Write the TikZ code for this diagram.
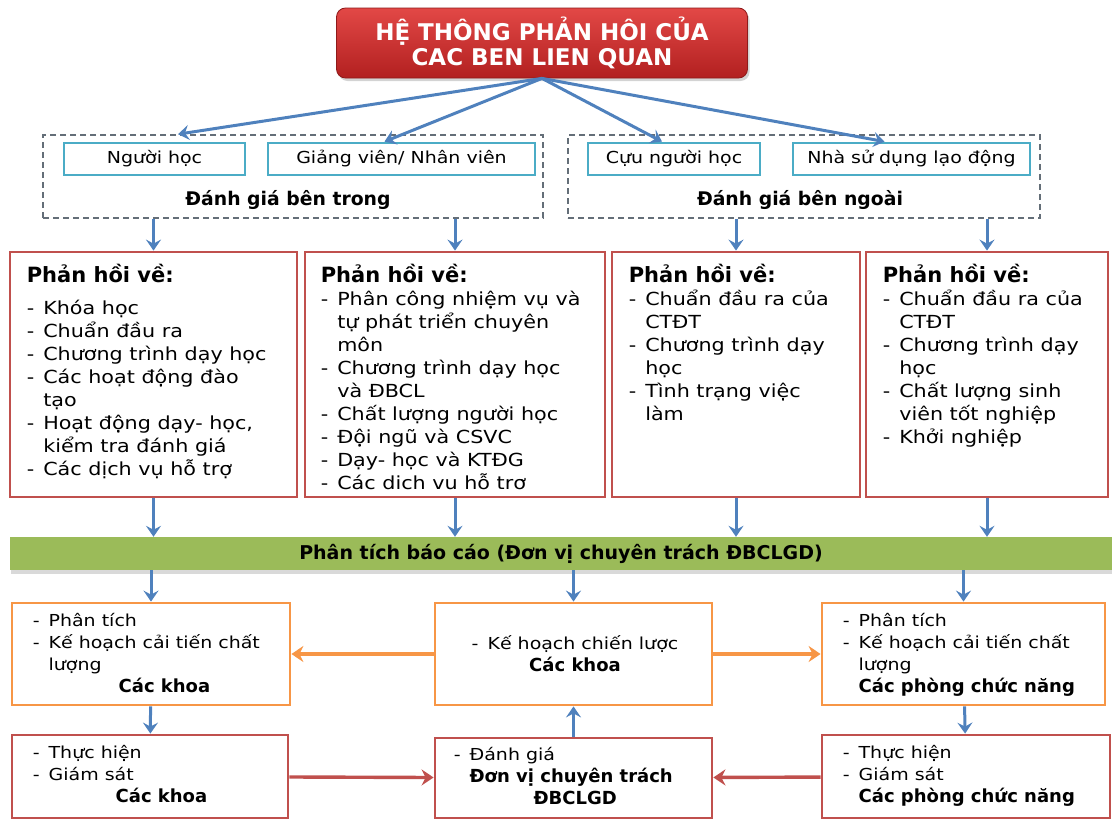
\documentclass[tikz,border=0pt]{standalone}
\usepackage{fontspec}
\setmainfont{DejaVu Sans}[FakeStretch=1.15, BoldFont={DejaVu Sans Bold}, BoldFeatures={FakeStretch=1.0}]
\usepackage{xcolor}
\usetikzlibrary{arrows.meta,positioning,shadows}
\definecolor{framered}{RGB}{192, 80, 77}
\definecolor{titletop}{RGB}{226, 72, 70}
\definecolor{titlebot}{RGB}{178, 32, 32}
\definecolor{planorange}{RGB}{247, 150, 70}
\definecolor{srcteal}{RGB}{75, 172, 198}
\definecolor{arrowblue}{RGB}{79, 129, 189}
\definecolor{bargreen}{RGB}{155, 187, 89}
\definecolor{dashgray}{RGB}{100, 110, 120}
\newcommand{\fbhead}[1]{\multicolumn{2}{@{}l@{}}{\fontsize{21}{23}\selectfont\bfseries #1}}
\newcommand{\unitname}[1]{{\fontsize{18}{22}\selectfont\bfseries #1}}

\begin{document}
\begin{tikzpicture}[x=1pt, y=-1pt,
  titlebox/.style={rectangle, rounded corners=9pt, draw=titlebot!80!black, line width=0.8pt, top color=titletop, bottom color=titlebot, text=white, align=center, font=\fontsize{23}{25}\selectfont\bfseries, minimum width=411pt, minimum height=70pt, drop shadow={opacity=0.35, shadow xshift=2pt, shadow yshift=-3pt}},
  groupbox/.style={rectangle, draw=dashgray, dash pattern=on 6pt off 4pt, line width=1.6pt, minimum height=83pt},
  srcbox/.style={rectangle, draw=srcteal, line width=2.8pt, minimum height=32pt, font=\fontsize{16.5}{20}\selectfont},
  grouplbl/.style={font=\fontsize{18.8}{20}\selectfont\bfseries},
  fbbox/.style={rectangle, draw=framered, line width=2.8pt, minimum height=245pt},
  fbtext/.style={anchor=north west, inner sep=0pt, font=\fontsize{18}{23}\selectfont},
  barbox/.style={rectangle, fill=bargreen, minimum width=1102pt, minimum height=33pt, font=\fontsize{19}{20}\selectfont\bfseries, drop shadow={opacity=0.3, shadow xshift=1pt, shadow yshift=-4pt}},
  planbox/.style={rectangle, draw=planorange, line width=2.8pt, minimum height=102pt},
  actbox/.style={rectangle, draw=framered, line width=2.8pt},
  steptext/.style={inner sep=0pt, font=\fontsize{16.5}{22}\selectfont},
  flow/.style={-{Stealth[length=11pt,width=15pt,inset=4pt]}, line width=3pt, color=arrowblue},
  oflow/.style={-{Stealth[length=12pt,width=16pt,inset=4pt]}, line width=3.4pt, color=planorange},
  rflow/.style={-{Stealth[length=12pt,width=16pt,inset=4pt]}, line width=3.4pt, color=framered}
]
\useasboundingbox (0,0) rectangle (1112,819);

% Title
\node[titlebox] (title) at (542,43) {HỆ THÔNG PHẢN HÔI CỦA\\CAC BEN LIEN QUAN};

% Stakeholder groups
\node[groupbox, minimum width=500pt] (inner) at (293,176.5) {};
\node[groupbox, minimum width=472pt] (outer) at (804,176.5) {};
\node[srcbox, minimum width=181pt] (learner) at (154.5,159) {Người học};
\node[srcbox, minimum width=267pt] (staff) at (401.5,159) {Giảng viên/ Nhân viên};
\node[srcbox, minimum width=172pt] (alumni) at (674,159) {Cựu người học};
\node[srcbox, minimum width=237pt] (employer) at (911.5,159) {Nhà sử dụng lạo động};
\node[grouplbl] (innerlbl) at (288,200) {Đánh giá bên trong};
\node[grouplbl] (outerlbl) at (800,200) {Đánh giá bên ngoài};

\draw[flow] (title.south) -- ([xshift=-115pt]inner.north);
\draw[flow] (title.south) -- ([xshift=-17pt]staff.north);
\draw[flow] (title.south) -- ([xshift=-12pt]alumni.north);
\draw[flow] (title.south) -- ([xshift=-27pt]employer.north);

% Feedback frames
\node[fbbox, minimum width=287pt] (fb1) at (153.5,374.5) {};
\node[fbbox, minimum width=300pt] (fb2) at (455,374.5) {};
\node[fbbox, minimum width=248pt] (fb3) at (736,374.5) {};
\node[fbbox, minimum width=242pt] (fb4) at (987,374.5) {};

\node[fbtext] (fb1txt) at ([xshift=18pt,yshift=-13pt]fb1.north west) {\begin{tabular}{@{}l@{\hspace{9pt}}l@{}}
\fbhead{Phản hồi về:}\\[9pt]
- & Khóa học\\
- & Chuẩn đầu ra\\
- & Chương trình dạy học\\
- & Các hoạt động đào\\
  & tạo\\
- & Hoạt động dạy- học,\\
  & kiểm tra đánh giá\\
- & Các dịch vụ hỗ trợ
\end{tabular}};
\node[fbtext] (fb2txt) at ([xshift=17pt,yshift=-13pt]fb2.north west) {\begin{tabular}{@{}l@{\hspace{9pt}}l@{}}
\fbhead{Phản hồi về:}\\
- & Phân công nhiệm vụ và\\
  & tự phát triển chuyên\\
  & môn\\
- & Chương trình dạy học\\
  & và ĐBCL\\
- & Chất lượng người học\\
- & Đội ngũ và CSVC\\
- & Dạy- học và KTĐG\\
- & Các dich vu hỗ trơ
\end{tabular}};
\node[fbtext] (fb3txt) at ([xshift=18pt,yshift=-13pt]fb3.north west) {\begin{tabular}{@{}l@{\hspace{9pt}}l@{}}
\fbhead{Phản hồi về:}\\
- & Chuẩn đầu ra của\\
  & CTĐT\\
- & Chương trình dạy\\
  & học\\
- & Tình trạng việc\\
  & làm
\end{tabular}};
\node[fbtext] (fb4txt) at ([xshift=18pt,yshift=-13pt]fb4.north west) {\begin{tabular}{@{}l@{\hspace{9pt}}l@{}}
\fbhead{Phản hồi về:}\\
- & Chuẩn đầu ra của\\
  & CTĐT\\
- & Chương trình dạy\\
  & học\\
- & Chất lượng sinh\\
  & viên tốt nghiệp\\
- & Khởi nghiệp
\end{tabular}};

\draw[flow] (inner.south -| fb1.north) -- (fb1.north);
\draw[flow] (inner.south -| fb2.north) -- (fb2.north);
\draw[flow] (outer.south -| fb3.north) -- (fb3.north);
\draw[flow] (outer.south -| fb4.north) -- (fb4.north);

% Report bar
\node[barbox] (report) at (561,553.5) {Phân tích báo cáo (Đơn vị chuyên trách ĐBCLGD)};
\foreach \f in {fb1,fb2,fb3,fb4}
  \draw[flow] (\f.south) -- (\f.south |- report.north);

% Plans (orange)
\node[planbox, minimum width=278pt] (plA) at (151,654) {};
\node[planbox, minimum width=277pt] (plB) at (573.5,654) {};
\node[planbox, minimum width=283pt] (plC) at (963.5,654) {};
\node[steptext, anchor=north west] (plAtxt) at ([xshift=22pt,yshift=-9pt]plA.north west) {\begin{tabular}{@{}l@{\hspace{9pt}}l@{}}
- & Phân tích\\
- & Kế hoạch cải tiến chất\\
  & lượng\\
  & \hspace{70pt}\unitname{Các khoa}
\end{tabular}};
\node[steptext] (plBtxt) at (575,656) {\begin{tabular}{@{}l@{\hspace{9pt}}l@{}}
- & Kế hoạch chiến lược\\
\multicolumn{2}{@{}c@{}}{\unitname{Các khoa}}
\end{tabular}};
\node[steptext, anchor=north west] (plCtxt) at ([xshift=22pt,yshift=-9pt]plC.north west) {\begin{tabular}{@{}l@{\hspace{9pt}}l@{}}
- & Phân tích\\
- & Kế hoạch cải tiến chất\\
  & lượng\\
  & \unitname{Các phòng chức năng}
\end{tabular}};

% Actions (red)
\node[actbox, minimum width=276pt, minimum height=83pt] (acD) at (150,776.5) {};
\node[actbox, minimum width=277pt, minimum height=80pt] (acE) at (573.5,778) {};
\node[actbox, minimum width=288pt, minimum height=83pt] (acF) at (966,776.5) {};
\node[steptext, anchor=north west] (acDtxt) at ([xshift=22pt,yshift=-9pt]acD.north west) {\begin{tabular}{@{}l@{\hspace{9pt}}l@{}}
- & Thực hiện\\
- & Giám sát\\
  & \hspace{67pt}\unitname{Các khoa}
\end{tabular}};
\node[steptext, anchor=north west] (acEtxt) at ([xshift=20pt,yshift=-8pt]acE.north west) {\begin{tabular}{@{}l@{\hspace{9pt}}l@{}}
- & Đánh giá\\
  & \unitname{Đơn vị chuyên trách}\\
  & \hspace{64pt}\unitname{ĐBCLGD}
\end{tabular}};
\node[steptext, anchor=north west] (acFtxt) at ([xshift=22pt,yshift=-9pt]acF.north west) {\begin{tabular}{@{}l@{\hspace{9pt}}l@{}}
- & Thực hiện\\
- & Giám sát\\
  & \unitname{Các phòng chức năng}
\end{tabular}};

% Connections
\draw[flow] (report.south -| plA.north) -- (plA.north);
\draw[flow] (report.south -| plB.north) -- (plB.north);
\draw[flow] (report.south -| plC.north) -- (plC.north);
\draw[flow] (plA) -- (acD);
\draw[flow] (plC) -- (acF);
\draw[flow] (acE) -- (plB);
\draw[oflow] (plB) -- (plA);
\draw[oflow] (plB) -- (plC);
\draw[rflow] (acD) -- (acE);
\draw[rflow] (acF) -- (acE);

\end{tikzpicture}
\end{document}
